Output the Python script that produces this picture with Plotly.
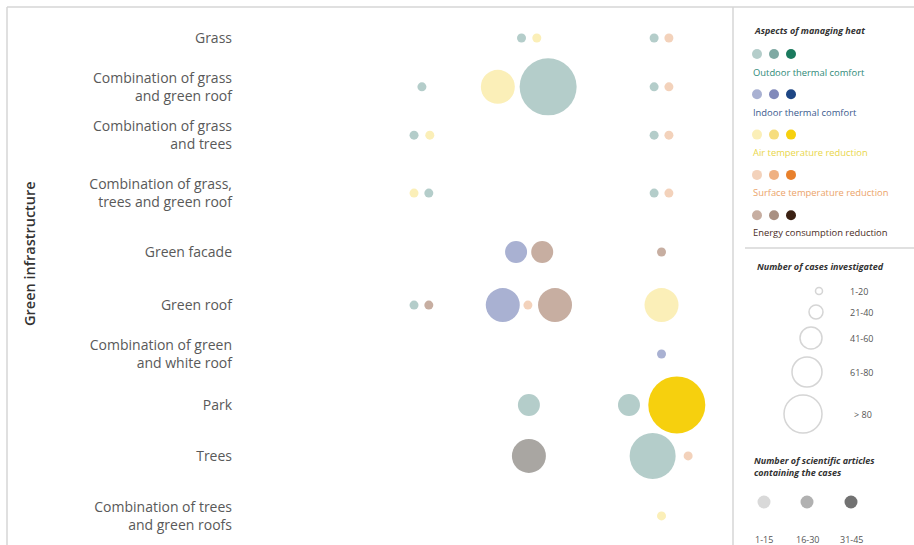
import plotly.graph_objects as go

# ---------------- data ----------------
categories = [
    "Grass",
    "Combination of grass<br>and green roof",
    "Combination of grass<br>and trees",
    "Combination of grass,<br>trees and green roof",
    "Green facade",
    "Green roof",
    "Combination of green<br>and white roof",
    "Park",
    "Trees",
    "Combination of trees<br>and green roofs",
]
# row positions of the categories on the (unevenly spaced) vertical scale
row_pos = [0.0, 0.92, 1.83, 2.92, 4.03, 5.03, 5.95, 6.91, 7.87, 9.0]

aspects = ["Outdoor thermal comfort", "Indoor thermal comfort", "Air temperature reduction",
           "Surface temperature reduction", "Energy consumption reduction"]
aspect_text_colors = ["#2f8a78", "#3b5a8e", "#e9d64a", "#eba46a", "#4b2d1e"]
shades = {
    "Outdoor thermal comfort": ["#b4cdca", "#7fa9a3", "#1b7a5e"],
    "Indoor thermal comfort": ["#a9b1d2", "#8189ba", "#1e4684"],
    "Air temperature reduction": ["#fbefb8", "#f6dd7e", "#f6d00e"],
    "Surface temperature reduction": ["#f3d2bb", "#efb182", "#e8802c"],
    "Energy consumption reduction": ["#c7aea1", "#a99082", "#3b2113"],
}

# bubble records: category index, aspect index, horizontal position, cases class (0..4), articles class (0..2)
b_cat = [0, 0, 0, 0,
         1, 1, 1, 1, 1,
         2, 2, 2, 2,
         3, 3, 3, 3,
         4, 4, 4,
         5, 5, 5, 5, 5, 5,
         6,
         7, 7, 7,
         8, 8, 8,
         9]
b_aspect = [0, 2, 0, 3,
            0, 2, 0, 0, 3,
            0, 2, 0, 3,
            2, 0, 0, 3,
            1, 4, 4,
            0, 4, 1, 3, 4, 2,
            1,
            0, 0, 2,
            4, 0, 3,
            2]
b_x = [57.1, 60.2, 84.0, 87.0,
       36.9, 52.3, 62.5, 84.0, 87.0,
       35.3, 38.5, 84.0, 87.0,
       35.3, 38.3, 84.0, 87.0,
       56.0, 61.3, 85.5,
       35.3, 38.3, 53.3, 58.4, 63.9, 85.5,
       85.5,
       58.6, 78.9, 88.6,
       58.6, 83.7, 90.9,
       85.5]
b_cases = [0, 0, 0, 0,
           0, 2, 4, 0, 0,
           0, 0, 0, 0,
           0, 0, 0, 0,
           1, 1, 0,
           0, 0, 2, 0, 2, 2,
           0,
           1, 1, 4,
           2, 3, 0,
           0]
b_articles = [0, 0, 0, 0,
              0, 0, 0, 0, 0,
              0, 0, 0, 0,
              0, 0, 0, 0,
              0, 0, 0,
              0, 0, 0, 0, 0, 0,
              0,
              0, 0, 2,
              1, 0, 0,
              0]
# special gray tone of the Trees energy bubble as printed
override_color = {30: "#a9a6a2"}

case_labels = ["1-20", "21-40", "41-60", "61-80", "> 80"]
article_labels = ["1-15", "16-30", "31-45"]
article_grays = ["#d9d9d9", "#b1b1b1", "#727272"]

# ---------------- styling ----------------
case_diam = [9, 22, 34, 46, 57]
legend_case_diam = [7, 14, 22, 30, 38]
FONT = "Open Sans"
W, H = 914, 545

fig = go.Figure()

cols = []
for i in range(len(b_cat)):
    a = aspects[b_aspect[i]]
    cols.append(override_color.get(i, shades[a][b_articles[i]]))

fig.add_trace(go.Scatter(
    x=b_x,
    y=[row_pos[c] for c in b_cat],
    mode="markers",
    marker=dict(size=[case_diam[s] for s in b_cases], color=cols, opacity=1,
                line=dict(width=0)),
    hoverinfo="skip", showlegend=False,
))

# ---- legend built on an overlay axis measured in pixels ----
leg_x = []
leg_y = []
leg_c = []
for k, a in enumerate(aspects):
    y0 = 54 + k * 40.3
    for j in range(3):
        leg_x.append(757 + j * 17)
        leg_y.append(y0)
        leg_c.append(shades[a][j])
fig.add_trace(go.Scatter(x=leg_x, y=leg_y, mode="markers", xaxis="x2", yaxis="y2",
                         marker=dict(size=10, color=leg_c), hoverinfo="skip", showlegend=False))

size_y = [291, 312, 338, 372, 414]
size_x = [819, 816, 811, 807, 803]
fig.add_trace(go.Scatter(x=size_x, y=size_y, mode="markers", xaxis="x2", yaxis="y2",
                         marker=dict(size=legend_case_diam, color="rgba(0,0,0,0)",
                                     line=dict(color="#c4c4c4", width=1.5)),
                         hoverinfo="skip", showlegend=False))
art_x = [764, 807, 851]
fig.add_trace(go.Scatter(x=art_x, y=[502] * 3, mode="markers", xaxis="x2", yaxis="y2",
                         marker=dict(size=13, color=article_grays), hoverinfo="skip", showlegend=False))

ann = []
ann.append(dict(x=752, y=30, text="<b><i>Aspects of managing heat</i></b>", xanchor="left",
                font=dict(size=9, color="#333333")))
for k, a in enumerate(aspects):
    ann.append(dict(x=751, y=72 + k * 40, text=a, xanchor="left",
                    font=dict(size=9.4, color=aspect_text_colors[k], weight=500)))
ann.append(dict(x=755, y=266, text="<b><i>Number of cases investigated</i></b>", xanchor="left",
                font=dict(size=9, color="#333333")))
for k, lab in enumerate(case_labels):
    ann.append(dict(x=848 if k < 4 else 852, y=size_y[k], text=lab, xanchor="left",
                    font=dict(size=9, color="#555555")))
ann.append(dict(x=752, y=466, text="<b><i>Number of scientific articles<br>containing the cases</i></b>",
                xanchor="left", align="left", font=dict(size=9, color="#333333")))
for k, lab in enumerate(article_labels):
    ann.append(dict(x=art_x[k], y=539, text=lab, xanchor="center",
                    font=dict(size=9, color="#555555")))
ann.append(dict(x=29, y=254, text="Green infrastructure", textangle=-90,
                font=dict(size=14.5, color="#333333", weight=600)))
for a in ann:
    a.update(xref="x2", yref="y2", showarrow=False)
    a["font"]["family"] = FONT

line_col = "#d6d6d6"
shapes = [
    dict(type="line", x0=7, x1=W, y0=7, y1=7, line=dict(color=line_col, width=1.5)),
    dict(type="line", x0=7, x1=7, y0=7, y1=H, line=dict(color=line_col, width=1.5)),
    dict(type="line", x0=733, x1=733, y0=7, y1=H, line=dict(color=line_col, width=1.5)),
    dict(type="line", x0=745, x1=W, y0=248, y1=248, line=dict(color=line_col, width=1.5)),
]
for s in shapes:
    s.update(xref="x2", yref="y2", layer="below")

fig.update_layout(
    width=W, height=H,
    margin=dict(l=0, r=0, t=0, b=0),
    paper_bgcolor="white", plot_bgcolor="rgba(0,0,0,0)",
    font=dict(family=FONT),
    xaxis=dict(domain=[240 / W, 733 / W], range=[0, 100], visible=False, fixedrange=True),
    yaxis=dict(domain=[0, 1], range=[9.548, -0.716], tickvals=row_pos, ticktext=categories,
               showgrid=False, zeroline=False, showline=False, ticks="",
               ticklabelstandoff=7,
               tickfont=dict(family=FONT, size=14, color="#595959", weight=500), fixedrange=True),
    xaxis2=dict(domain=[0, 1], range=[0, W], visible=False, anchor="y2", fixedrange=True),
    yaxis2=dict(domain=[0, 1], range=[H, 0], visible=False, anchor="x2", fixedrange=True),
    annotations=ann,
    shapes=shapes,
)

fig.write_html("out.html", config={"displayModeBar": False},
               post_script="document.body.style.margin='0';")
